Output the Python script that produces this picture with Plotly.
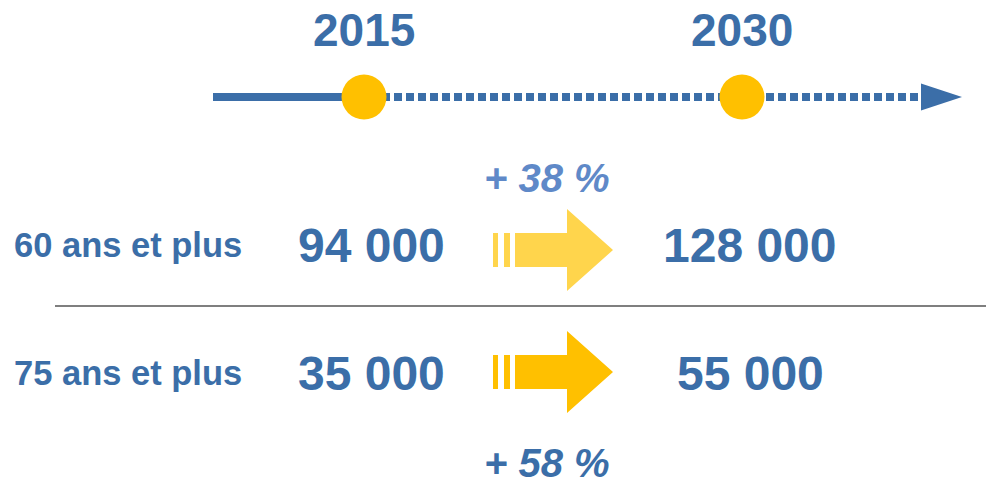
import plotly.graph_objects as go

# ---- data ----
years = [2015, 2030]
age_groups = ["60 ans et plus", "75 ans et plus"]
values_2015 = ["94 000", "35 000"]
values_2030 = ["128 000", "55 000"]
growth = ["+ 38 %", "+ 58 %"]

# ---- styling ----
W, H = 994, 482
OFF = 8  # page body margin offset
BLUE = "#3b6ea8"
BLUE_LIGHT = "#5f89c8"
YELLOW = "#ffc000"
ARROW_COLORS = ["#ffd54c", "#ffc000"]
FONT = "Liberation Sans"

# x axis in years, mapped so 2015 -> 364px, 2030 -> 742px (page pixels)
px_per_year = (742 - 364) / (years[1] - years[0])

def px2yr(px):
    return years[0] + (px - 364) / px_per_year

x_range = [px2yr(OFF), px2yr(W + OFF)]
y_range = [H, OFF]

row_y = [245, 373]
timeline_y = 97

fig = go.Figure()

# solid part of timeline
fig.add_trace(go.Scatter(x=[px2yr(213), years[0]], y=[timeline_y, timeline_y],
                         mode="lines", line=dict(color=BLUE, width=8),
                         hoverinfo="skip", showlegend=False))
# dotted part
fig.add_trace(go.Scatter(x=[px2yr(298), px2yr(921)], y=[timeline_y, timeline_y],
                         mode="lines", line=dict(color=BLUE, width=8, dash="8px,4px"),
                         hoverinfo="skip", showlegend=False))
# arrow head of timeline
ax0, ax1 = px2yr(921), px2yr(962)
fig.add_shape(type="path", xref="x", yref="y",
              path=f"M {ax0},{timeline_y-13.5} L {ax1},{timeline_y} L {ax0},{timeline_y+13.5} Z",
              fillcolor=BLUE, line=dict(width=0), layer="above")
# year markers
fig.add_trace(go.Scatter(x=years, y=[timeline_y] * 2, mode="markers",
                         marker=dict(size=45, color=YELLOW, line=dict(width=0)),
                         hoverinfo="skip", showlegend=False))
# year labels
for yr in years:
    fig.add_annotation(x=yr, y=30, text=str(yr), showarrow=False,
                       xanchor="center", yanchor="middle",
                       font=dict(family=FONT, size=46, color=BLUE, weight="bold"))

# rows
for i, grp in enumerate(age_groups):
    yc = row_y[i]
    fig.add_annotation(x=px2yr(12), y=yc, text=grp, showarrow=False,
                       xanchor="left", yanchor="middle",
                       font=dict(family=FONT, size=34.5, color=BLUE, weight="bold"))
    fig.add_annotation(x=years[0] + 7 / px_per_year, y=yc, text=values_2015[i], showarrow=False,
                       xanchor="center", yanchor="middle",
                       font=dict(family=FONT, size=48, color=BLUE, weight="bold"))
    fig.add_annotation(x=years[1] + 8 / px_per_year, y=yc, text=values_2030[i], showarrow=False,
                       xanchor="center", yanchor="middle",
                       font=dict(family=FONT, size=48, color=BLUE, weight="bold"))
    # block arrow with stripes
    ay = [250, 372][i]
    c = ARROW_COLORS[i]
    bh, hh = 17, 41
    for sx0, sx1 in [(493, 498), (504, 510)]:
        fig.add_shape(type="rect", xref="x", yref="y",
                      x0=px2yr(sx0), x1=px2yr(sx1), y0=ay - bh, y1=ay + bh,
                      fillcolor=c, line=dict(width=0))
    b0, b1, tip = px2yr(515), px2yr(567), px2yr(613)
    fig.add_shape(type="path", xref="x", yref="y",
                  path=(f"M {b0},{ay-bh} L {b1},{ay-bh} L {b1},{ay-hh} L {tip},{ay} "
                        f"L {b1},{ay+hh} L {b1},{ay+bh} L {b0},{ay+bh} Z"),
                  fillcolor=c, line=dict(width=0))

# growth labels
growth_y = [178, 463]
growth_colors = [BLUE_LIGHT, BLUE]
for i, g in enumerate(growth):
    fig.add_annotation(x=px2yr(547), y=growth_y[i], text=g, showarrow=False,
                       xanchor="center", yanchor="middle",
                       font=dict(family=FONT, size=40, color=growth_colors[i],
                                 weight="bold", style="italic"))

# separator
fig.add_shape(type="line", xref="x", yref="y", x0=px2yr(55), x1=px2yr(994),
              y0=306, y1=306, line=dict(color="#555555", width=1.5))

fig.update_layout(
    width=W, height=H - OFF, margin=dict(l=0, r=0, t=0, b=0),
    paper_bgcolor="white", plot_bgcolor="white",
    xaxis=dict(range=x_range, visible=False, fixedrange=True),
    yaxis=dict(range=y_range, visible=False, fixedrange=True),
    showlegend=False,
)

fig.write_html("out.html")
